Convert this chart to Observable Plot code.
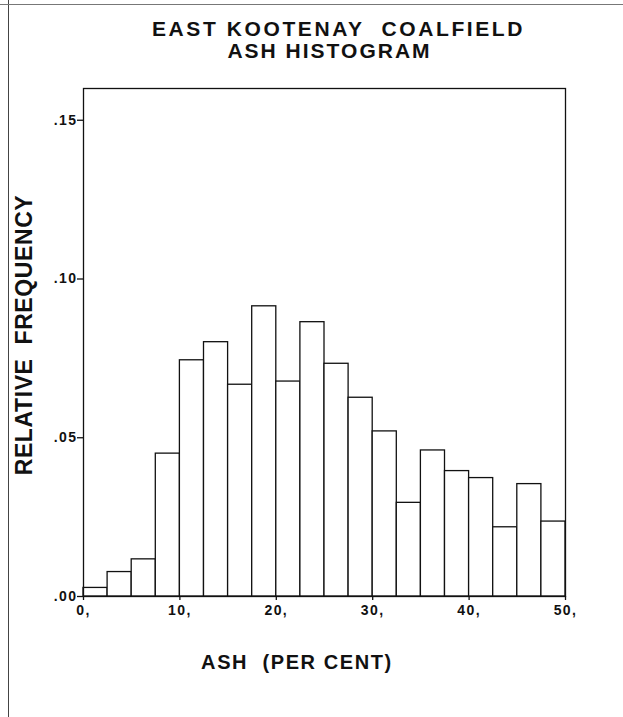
<!DOCTYPE html>
<html>
<head>
<meta charset="utf-8">
<script src="https://cdn.jsdelivr.net/npm/d3@7"></script>
<script src="https://cdn.jsdelivr.net/npm/@observablehq/plot@0.6"></script>
<style>
  html, body { margin: 0; padding: 0; background: #fff; }
  #page { position: relative; width: 623px; height: 717px; overflow: hidden; font-family: "Liberation Sans", Arial, sans-serif; font-weight: bold; color: #111; }
  .title { position: absolute; width: 623px; text-align: center; font-size: 21px; letter-spacing: 2.6px; line-height: 24px; }
  #ylab { position: absolute; left: 24px; top: 335px; transform: translate(-50%, -50%) rotate(-90deg); white-space: nowrap; font-size: 23px; letter-spacing: 0.6px; }
  #xlab { position: absolute; left: 0; width: 594px; top: 651px; text-align: center; font-size: 20px; letter-spacing: 1.6px; white-space: pre; }
  #chart { position: absolute; left: 0; top: 0; }
  #chart svg text { font-size: 14px !important; font-weight: bold; letter-spacing: 1.4px; }
  .scanL { position: absolute; left: 8px; top: 0; width: 1px; height: 717px; background: #444; }
  .scanT { position: absolute; left: 0; top: 4px; width: 623px; height: 1px; background: #777; }
</style>
</head>
<body>
<div id="page">
  <div class="scanL"></div>
  <div class="scanT"></div>
  <div id="chart"></div>
  <div class="title" style="top:17px; left:27px">EAST KOOTENAY&nbsp; COALFIELD</div>
  <div class="title" style="top:39px; left:18px; letter-spacing:2px">ASH HISTOGRAM</div>
  <div id="ylab">RELATIVE&nbsp; FREQUENCY</div>
  <div id="xlab">ASH  (PER CENT)</div>
</div>
<script>
const binLow  = [0, 2.5, 5, 7.5, 10, 12.5, 15, 17.5, 20, 22.5, 25, 27.5, 30, 32.5, 35, 37.5, 40, 42.5, 45, 47.5];
const binHigh = [2.5, 5, 7.5, 10, 12.5, 15, 17.5, 20, 22.5, 25, 27.5, 30, 32.5, 35, 37.5, 40, 42.5, 45, 47.5, 50];
const relFreq = [0.0027, 0.0077, 0.0117, 0.0450, 0.0744, 0.0801, 0.0667, 0.0914, 0.0677, 0.0864,
                 0.0733, 0.0626, 0.0520, 0.0295, 0.0460, 0.0395, 0.0373, 0.0218, 0.0354, 0.0236];
const xTicks = [0, 10, 20, 30, 40, 50];
const xTickLabels = ["0,", "10,", "20,", "30,", "40,", "50,"];
const yTicks = [0, 0.05, 0.10, 0.15];
const yTickLabels = [".00", ".05", ".10", ".15"];

const bins = binLow.map((lo, i) => ({lo, hi: binHigh[i], f: relFreq[i]}));

const chart = Plot.plot({
  width: 623,
  height: 640,
  marginLeft: 83,
  marginRight: 58,
  marginTop: 88,
  marginBottom: 44,
  style: {fontFamily: "'Liberation Sans', Arial, sans-serif", fontWeight: "bold", fontSize: "14px", color: "#111", background: "transparent"},
  x: {domain: [0, 50]},
  y: {domain: [0, 0.16]},
  marks: [
    Plot.rect(bins, {x1: "lo", x2: "hi", y1: 0, y2: "f", fill: "white", stroke: "#111", strokeWidth: 1.3}),
    Plot.frame({stroke: "#111", strokeWidth: 1.3}),
    Plot.axisY({ticks: yTicks, tickFormat: d => yTickLabels[yTicks.indexOf(d)], tickSize: 6, tickPadding: 0, fontSize: 14, label: null, strokeWidth: 1.3}),
    Plot.axisX({ticks: xTicks, tickFormat: d => xTickLabels[xTicks.indexOf(d)], tickSize: 4, tickPadding: 5, fontSize: 14, label: null, strokeWidth: 1.3})
  ]
});
document.getElementById("chart").appendChild(chart);
</script>
</body>
</html>
